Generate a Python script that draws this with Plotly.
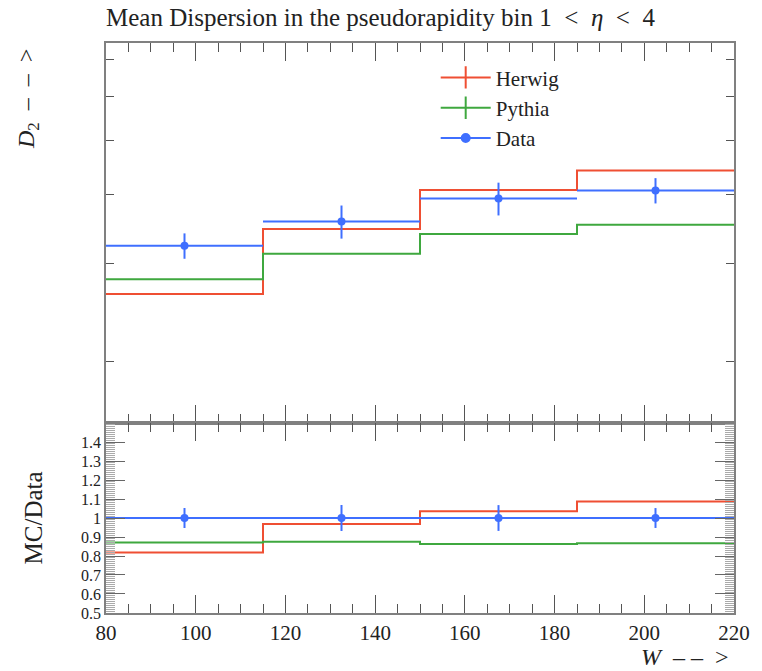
import plotly.graph_objects as go

# ---- data ----
bin_edges = [80, 115, 150, 185, 220]
data_vals = [3.233, 3.575, 3.933, 4.066]
data_errs = [0.17, 0.245, 0.267, 0.213]
herwig_vals = [2.646, 3.464, 4.073, 4.418]
pythia_vals = [2.815, 3.127, 3.394, 3.527]
ratio_ticks = [0.5, 0.6, 0.7, 0.8, 0.9, 1, 1.1, 1.2, 1.3, 1.4]
main_ticks = [2, 3, 4, 5, 6, 7]

RED = "#ef4f33"
GREEN = "#3fa83f"
BLUE = "#3f6fff"
FONT = "Liberation Serif"
AX = "#808080"
TXT = "#222222"

centers = [(a + b) / 2 for a, b in zip(bin_edges[:-1], bin_edges[1:])]
halfw = [(b - a) / 2 for a, b in zip(bin_edges[:-1], bin_edges[1:])]


def step_y(v):
    return list(v) + [v[-1]]


herwig_ratio = [h / d for h, d in zip(herwig_vals, data_vals)]
pythia_ratio = [p / d for p, d in zip(pythia_vals, data_vals)]
data_ratio = [1.0 for _ in data_vals]
data_ratio_err = [e / d for e, d in zip(data_errs, data_vals)]

fig = go.Figure()

# upper panel
fig.add_trace(go.Scatter(x=bin_edges, y=step_y(herwig_vals), mode="lines", line_shape="hv",
                         line=dict(color=RED, width=2), showlegend=False, xaxis="x", yaxis="y"))
fig.add_trace(go.Scatter(x=bin_edges, y=step_y(pythia_vals), mode="lines", line_shape="hv",
                         line=dict(color=GREEN, width=2), showlegend=False, xaxis="x", yaxis="y"))
fig.add_trace(go.Scatter(x=centers, y=data_vals, mode="markers",
                         marker=dict(color=BLUE, size=8),
                         error_x=dict(type="data", array=halfw, width=0, thickness=2, color=BLUE),
                         error_y=dict(type="data", array=data_errs, width=0, thickness=2, color=BLUE),
                         showlegend=False, xaxis="x", yaxis="y"))

# lower panel
fig.add_trace(go.Scatter(x=bin_edges, y=step_y(herwig_ratio), mode="lines", line_shape="hv",
                         line=dict(color=RED, width=2), showlegend=False, xaxis="x2", yaxis="y2"))
fig.add_trace(go.Scatter(x=bin_edges, y=step_y(pythia_ratio), mode="lines", line_shape="hv",
                         line=dict(color=GREEN, width=2), showlegend=False, xaxis="x2", yaxis="y2"))
fig.add_trace(go.Scatter(x=centers, y=data_ratio, mode="markers",
                         marker=dict(color=BLUE, size=8),
                         error_x=dict(type="data", array=halfw, width=0, thickness=2, color=BLUE),
                         error_y=dict(type="data", array=data_ratio_err, width=0, thickness=2, color=BLUE),
                         showlegend=False, xaxis="x2", yaxis="y2"))

# legend-only entries
for name, col, sym, sz in [("Herwig", RED, "line-ns", 16), ("Pythia", GREEN, "line-ns", 16),
                           ("Data", BLUE, "circle", 8)]:
    fig.add_trace(go.Scatter(x=[None], y=[None], name=name, mode="lines+markers",
                             line=dict(color=col, width=2),
                             marker=dict(color=col, symbol=sym, size=sz, line=dict(color=col, width=2)),
                             xaxis="x", yaxis="y"))

xcommon = dict(range=[80, 220], tick0=80, dtick=20, ticks="inside", ticklen=18, tickwidth=1.3,
               tickcolor="#555", showline=True, linecolor=AX, linewidth=1.5, mirror="ticks",
               showgrid=False, zeroline=False,
               minor=dict(dtick=5, ticklen=9, ticks="inside", tickcolor="#555", tickwidth=1.1))

fig.update_layout(
    width=762, height=671,
    margin=dict(l=106, r=24, t=43, b=58),
    plot_bgcolor="white", paper_bgcolor="white",
    font=dict(family=FONT, size=21, color=TXT),
    xaxis=dict(xcommon, anchor="y", domain=[0, 1], showticklabels=False, matches="x2"),
    xaxis2=dict(xcommon, anchor="y2", domain=[0, 1], showticklabels=True,
                tickfont=dict(family=FONT, size=21, color=TXT)),
    yaxis=dict(type="log", range=[0.1903, 0.8748], domain=[0.3333, 1], tickvals=main_ticks,
               showticklabels=False, ticks="inside", ticklen=8, tickcolor="#555", tickwidth=1.1,
               showline=True, linecolor=AX, linewidth=1.5, mirror="ticks", showgrid=False,
               zeroline=False),
    yaxis2=dict(range=[0.5, 1.5], domain=[0, 0.3333], tickvals=ratio_ticks,
                ticktext=[("%g" % v) for v in ratio_ticks],
                ticks="inside", ticklen=19, tickcolor="#666", tickwidth=1.1,
                showline=True, linecolor=AX, linewidth=1.5, mirror="ticks", showgrid=False,
                zeroline=False, tickfont=dict(family=FONT, size=16, color=TXT),
                minor=dict(dtick=0.01, tick0=0.5, ticklen=9, ticks="inside", tickcolor="#aaa",
                           tickwidth=0.7)),
    legend=dict(x=0.525, y=0.975, xanchor="left", yanchor="top", bgcolor="rgba(0,0,0,0)",
                font=dict(family=FONT, size=21, color=TXT), tracegroupgap=0, itemwidth=50),
    showlegend=True,
)

fig.add_annotation(text="Mean Dispersion in the pseudorapidity bin 1 &nbsp;&lt;&nbsp; <i>η</i> &nbsp;&lt;&nbsp; 4",
                   xref="paper", yref="paper", x=-0.003, y=1.0, yshift=26, xanchor="left",
                   yanchor="middle", showarrow=False, font=dict(family=FONT, size=25, color=TXT))
fig.add_annotation(text="<i>D</i><sub>2</sub> &nbsp;–&nbsp;&nbsp;–&nbsp;&nbsp;&gt;", textangle=-90,
                   xref="paper", yref="paper", x=0, xshift=-78, y=1.0, yshift=-4, xanchor="center",
                   yanchor="top", showarrow=False, font=dict(family=FONT, size=24, color=TXT))
fig.add_annotation(text="MC/Data", textangle=-90,
                   xref="paper", yref="paper", x=0, xshift=-73, y=0.166, xanchor="center",
                   yanchor="middle", showarrow=False, font=dict(family=FONT, size=25, color=TXT))
fig.add_annotation(text="<i>W</i> &nbsp;–&nbsp;–&nbsp;&nbsp;&gt;",
                   xref="paper", yref="paper", x=1.0, xshift=-3, y=0, yshift=-44, xanchor="right",
                   yanchor="middle", showarrow=False, font=dict(family=FONT, size=24, color=TXT))

fig.write_html("out.html")
